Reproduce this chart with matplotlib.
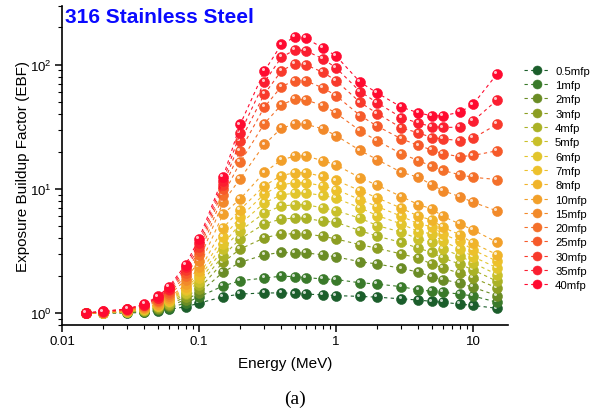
import numpy as np
import matplotlib
matplotlib.use("Agg")
from matplotlib import pyplot as plt
from matplotlib.transforms import ScaledTranslation

plt.rcParams['font.family'] = ['Liberation Sans', 'DejaVu Sans']
plt.rcParams['mathtext.fontset'] = 'custom'
plt.rcParams['mathtext.rm'] = 'Liberation Sans'
plt.rcParams['mathtext.it'] = 'Liberation Sans:italic'
plt.rcParams['mathtext.bf'] = 'Liberation Sans:bold'

energy = [0.015, 0.02, 0.03, 0.04, 0.05, 0.06, 0.08, 0.1, 0.15, 0.2, 0.3, 0.4, 0.5,
          0.6, 0.8, 1, 1.5, 2, 3, 4, 5, 6, 8, 10, 15]

mfp_labels = ['0.5mfp', '1mfp', '2mfp', '3mfp', '4mfp', '5mfp', '6mfp', '7mfp', '8mfp',
              '10mfp', '15mfp', '20mfp', '25mfp', '30mfp', '35mfp', '40mfp']

ebf_05 = [1.00, 1.00, 1.00, 1.01, 1.04, 1.07, 1.12, 1.20, 1.35, 1.42, 1.45, 1.45, 1.44,
          1.42, 1.40, 1.38, 1.36, 1.34, 1.30, 1.27, 1.24, 1.22, 1.18, 1.15, 1.09]
ebf_1 = [1.00, 1.00, 1.01, 1.02, 1.06, 1.10, 1.20, 1.35, 1.65, 1.82, 1.91, 1.98, 1.96,
         1.93, 1.88, 1.86, 1.75, 1.71, 1.63, 1.53, 1.50, 1.47, 1.42, 1.37, 1.22]
ebf_2 = [1.00, 1.00, 1.01, 1.03, 1.08, 1.13, 1.28, 1.45, 2.13, 2.56, 2.94, 3.08, 3.05,
         3.05, 2.94, 2.83, 2.59, 2.48, 2.29, 2.13, 1.96, 1.86, 1.74, 1.61, 1.38]
ebf_3 = [1.00, 1.00, 1.015, 1.04, 1.10, 1.16, 1.35, 1.56, 2.56, 3.28, 4.03, 4.34, 4.34,
         4.34, 4.15, 3.95, 3.55, 3.32, 2.99, 2.76, 2.48, 2.31, 2.09, 1.92, 1.59]
ebf_4 = [1.00, 1.00, 1.02, 1.05, 1.11, 1.19, 1.41, 1.67, 2.90, 3.95, 5.22, 5.73, 5.80,
         5.80, 5.49, 5.39, 4.61, 4.15, 3.71, 3.32, 3.08, 2.78, 2.48, 2.22, 1.80]
ebf_5 = [1.00, 1.00, 1.025, 1.06, 1.13, 1.22, 1.46, 1.78, 3.28, 4.61, 6.40, 7.29, 7.43,
         7.47, 7.03, 6.68, 5.80, 5.06, 4.48, 3.95, 3.71, 3.28, 2.90, 2.53, 2.04]
ebf_6 = [1.00, 1.00, 1.03, 1.07, 1.14, 1.24, 1.52, 1.90, 3.60, 5.22, 7.71, 8.95, 9.23,
         9.27, 8.86, 8.41, 7.03, 6.09, 5.22, 4.53, 4.34, 3.79, 3.28, 2.84, 2.31]
ebf_7 = [1.00, 1.00, 1.03, 1.08, 1.16, 1.26, 1.57, 2.02, 4.08, 5.91, 9.11, 10.8, 11.2,
         11.2, 10.6, 9.87, 8.20, 7.20, 6.02, 5.22, 4.97, 4.34, 3.79, 3.22, 2.61]
ebf_8 = [1.00, 1.00, 1.035, 1.09, 1.17, 1.28, 1.62, 2.16, 4.85, 6.81, 10.6, 12.8, 13.5,
         13.5, 12.6, 11.7, 9.69, 8.46, 6.99, 6.02, 5.62, 4.91, 4.28, 3.65, 2.95]
ebf_10 = [1.00, 1.00, 1.04, 1.10, 1.19, 1.31, 1.70, 2.35, 6.27, 8.30, 13.6, 17.1, 18.4,
          18.4, 16.9, 15.6, 12.3, 10.7, 8.67, 7.47, 6.90, 6.02, 5.22, 4.67, 3.71]
ebf_15 = [1.00, 1.01, 1.05, 1.12, 1.23, 1.38, 1.85, 2.63, 7.81, 12.1, 22.8, 30.9, 33.2,
          33.2, 30.5, 26.9, 20.4, 17.2, 13.6, 12.4, 10.8, 9.69, 8.67, 7.81, 6.64]
ebf_20 = [1.00, 1.01, 1.06, 1.13, 1.26, 1.43, 1.98, 2.91, 8.9, 16.4, 33.6, 47.6, 52.9,
          52.2, 47.0, 40.8, 29.4, 24.4, 19.2, 16.9, 15.2, 14.1, 13.0, 12.4, 11.9]
ebf_25 = [1.00, 1.02, 1.065, 1.15, 1.28, 1.48, 2.10, 3.16, 10.0, 20.3, 45.6, 66.8, 74.7,
          74.3, 65.3, 56.5, 39.0, 32.0, 25.3, 22.4, 20.6, 19.2, 18.2, 18.6, 20.3]
ebf_30 = [1.00, 1.02, 1.07, 1.16, 1.31, 1.52, 2.22, 3.40, 10.8, 24.2, 58.0, 89.5, 102,
          100, 87.3, 74.7, 49.8, 40.5, 31.0, 28.3, 25.9, 25.3, 24.5, 25.6, 33.2]
ebf_35 = [1.00, 1.03, 1.075, 1.17, 1.33, 1.56, 2.33, 3.67, 11.6, 28.2, 72.5, 115, 132,
          130, 112, 94.6, 60.9, 49.4, 37.6, 33.9, 31.8, 31.3, 31.4, 35.2, 52.1]
ebf_40 = [1.00, 1.03, 1.08, 1.18, 1.36, 1.61, 2.45, 3.95, 12.4, 33.1, 89.0, 146, 167,
          164, 137, 118, 72.5, 59.3, 45.6, 41.0, 38.8, 38.8, 41.5, 47.9, 84.6]

series = [ebf_05, ebf_1, ebf_2, ebf_3, ebf_4, ebf_5, ebf_6, ebf_7, ebf_8,
          ebf_10, ebf_15, ebf_20, ebf_25, ebf_30, ebf_35, ebf_40]

colors = ['#1b5e2b', '#3a7a2a', '#6a8c25', '#8c9e22', '#aab226', '#c9c02a', '#e2c52c',
          '#edc12c', '#f0b42a', '#f2a02a', '#f28a2a', '#f4702a', '#f65a2a', '#f83a2c',
          '#fb1e30', '#ff0a30']

fig = plt.figure(figsize=(5.9, 4.14), dpi=100)
ax = fig.add_axes([0.105, 0.2126, 0.756, 0.7714])

shine = ax.transData + ScaledTranslation(-1.3 / 72, 1.3 / 72, fig.dpi_scale_trans)

for ys, c, lab in zip(series, colors, mfp_labels):
    ax.plot(energy, ys, color=c, lw=0.8, ls=(0, (3, 3)), marker='o', ms=7.2,
            mfc=c, mec=c, mew=0.4, label=lab)
    ax.plot(energy, ys, ls='none', marker='o', ms=2.2, mfc='white', mec='none',
            alpha=0.75, transform=shine)

ax.set_xscale('log')
ax.set_yscale('log')
ax.set_xlim(0.01, 18)
ax.set_ylim(0.8, 300)

ax.spines['top'].set_visible(False)
ax.spines['right'].set_visible(False)
ax.spines['left'].set_linewidth(1.2)
ax.spines['bottom'].set_linewidth(1.2)
ax.tick_params(which='major', direction='out', length=5, width=1.1, labelsize=9.5, pad=2.5)
ax.tick_params(which='minor', direction='out', length=3, width=0.8)
ax.set_xticks([0.01, 0.1, 1, 10])
ax.set_xticklabels(['0.01', '0.1', '1', '10'])
ax.set_yticks([1, 10, 100])
ax.set_yticklabels(['$10^0$', '$10^1$', '$10^2$'])

ax.set_xlabel('Energy (MeV)', fontsize=11)
ax.xaxis.set_label_coords(0.5, -0.097)
ax.set_ylabel('Exposure Buildup Factor (EBF)', fontsize=11)
ax.yaxis.set_label_coords(-0.072, 0.5)

ax.text(0.006, 0.995, '316 Stainless Steel', transform=ax.transAxes, color='#0a0aff',
        fontsize=15, fontweight='bold', ha='left', va='top')

fig.text(0.5, 0.025, '(a)', fontsize=14, family='Liberation Serif', ha='center')

ax.legend(loc='upper left', bbox_to_anchor=(0.879, 0.853), bbox_transform=fig.transFigure,
          frameon=False, fontsize=8.2, handlelength=2.2, handletextpad=0.5,
          labelspacing=0.38, borderpad=0, markerscale=0.9)

fig.savefig('out.png', dpi=100)
